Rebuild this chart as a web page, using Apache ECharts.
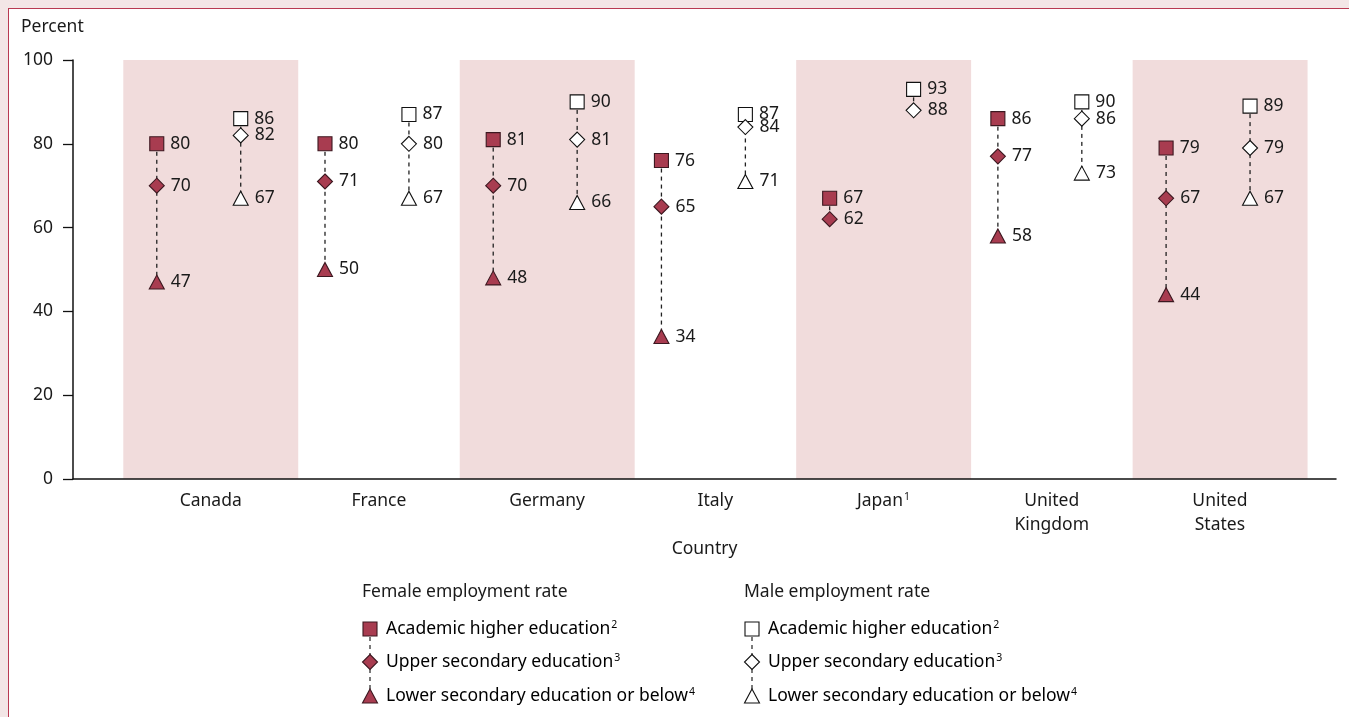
<!DOCTYPE html>
<html>
<head>
<meta charset="utf-8">
<title>Employment rates by education</title>
<script src="https://cdn.jsdelivr.net/npm/echarts@6/dist/echarts.min.js"></script>
<style>
  html, body { margin: 0; padding: 0; }
  body { width: 1349px; height: 717px; background: #f3e6e6; position: relative; overflow: hidden; }
  #panel { position: absolute; left: 8px; top: 8px; right: 0; bottom: 0; background: #fff;
           border-left: 1px solid #b83a52; border-top: 1px solid #b83a52; }
  #chart { position: absolute; left: 0; top: 0; width: 1349px; height: 717px; }
</style>
</head>
<body>
<div id="panel"></div>
<div id="chart"></div>
<script>
// data
var countries = ['Canada', 'France', 'Germany', 'Italy', 'Japan', 'United Kingdom', 'United States'];
var countryNotes = { 'Japan': '1' };
var shadedCountries = ['Canada', 'Germany', 'Japan', 'United States'];

var femaleAcademic = [80, 80, 81, 76, 67, 86, 79];
var femaleUpper    = [70, 71, 70, 65, 62, 77, 67];
var femaleLower    = [47, 50, 48, 34, null, 58, 44];

var maleAcademic = [86, 87, 90, 87, 93, 90, 89];
var maleUpper    = [82, 80, 81, 84, 88, 86, 79];
var maleLower    = [67, 67, 66, 71, null, 73, 67];

var yMin = 0, yMax = 100, yStep = 20;

var legendGroups = [
  { title: 'Female employment rate', fill: '#a83c50', stroke: '#3c1820' },
  { title: 'Male employment rate', fill: '#ffffff', stroke: '#111111' }
];
var legendRows = [
  { text: 'Academic higher education', note: '2', symbol: 'square' },
  { text: 'Upper secondary education', note: '3', symbol: 'diamond' },
  { text: 'Lower secondary education or below', note: '4', symbol: 'triangle' }
];

// layout
var FONT = '"Noto Sans", sans-serif';
var FS = 17.5;
var TXT = '#1a1a1a';
var FEMALE_DX = -0.321, MALE_DX = 0.178, BAND_HALF = 0.52;
var FEMALE_FILL = '#a83c50', FEMALE_LINE = '#3c1820';

function pts(values, dx) {
  var out = [];
  values.forEach(function (v, i) { if (v != null) out.push([i + dx, v]); });
  return out;
}

function ranges(lists, dx) {
  return countries.map(function (c, i) {
    var vals = lists.map(function (l) { return l[i]; }).filter(function (v) { return v != null; });
    return [i + dx, Math.max.apply(null, vals), Math.min.apply(null, vals)];
  });
}

function scatter(name, values, dx, symbol, size, fill, stroke) {
  return {
    name: name, type: 'scatter', xAxisIndex: 0, yAxisIndex: 0, z: 5,
    symbol: symbol, symbolSize: size,
    itemStyle: { color: fill, borderColor: stroke, borderWidth: 1.1, opacity: 1 },
    label: {
      show: true, position: 'right', distance: 6,
      fontFamily: FONT, fontSize: FS, color: TXT,
      formatter: function (p) { return p.value[1]; }
    },
    emphasis: { disabled: true },
    data: pts(values, dx)
  };
}

var supRich = {
  a: { fontFamily: FONT, fontSize: FS, color: TXT },
  s: { fontFamily: FONT, fontSize: 10.5, color: TXT, padding: [0, 0, 8, 1] }
};

// legend built with graphic elements
var graphics = [{
  type: 'text', left: 21, top: 18,
  style: { text: 'Percent', fontFamily: FONT, fontSize: FS, fill: TXT }
}];
var legendX = [370, 752], headY = 592, rowY = [629, 662, 696];
legendGroups.forEach(function (g, gi) {
  var cx = legendX[gi];
  graphics.push({ type: 'text', x: cx - 8, y: headY,
    style: { text: g.title, fontFamily: FONT, fontSize: FS, fill: TXT, verticalAlign: 'middle' } });
  graphics.push({ type: 'line', shape: { x1: cx, y1: rowY[0], x2: cx, y2: rowY[2] },
    style: { stroke: '#222', lineWidth: 1.2, lineDash: [4, 4] } });
  legendRows.forEach(function (r, ri) {
    var cy = rowY[ri], sh;
    var st = { fill: g.fill, stroke: g.stroke, lineWidth: 1.1 };
    if (r.symbol === 'square') sh = { type: 'rect', shape: { x: cx - 7, y: cy - 7, width: 14, height: 14 }, style: st };
    else if (r.symbol === 'diamond') sh = { type: 'polygon', shape: { points: [[cx, cy - 7.5], [cx + 7.5, cy], [cx, cy + 7.5], [cx - 7.5, cy]] }, style: st };
    else sh = { type: 'polygon', shape: { points: [[cx, cy - 7], [cx + 7.5, cy + 7], [cx - 7.5, cy + 7]] }, style: st };
    graphics.push(sh);
    graphics.push({ type: 'text', x: cx + 16, y: cy,
      style: { text: '{a|' + r.text + '}{s|' + r.note + '}', rich: supRich, verticalAlign: 'middle' } });
  });
});

var chart = echarts.init(document.getElementById('chart'), null, { renderer: 'canvas' });

var option = {
  backgroundColor: 'transparent',
  animation: false,
  textStyle: { fontFamily: FONT },
  grid: [
    { left: 73, right: 13, top: 60, height: 419 },
    { left: 126.6, width: 1177.4, top: 60, height: 419 }
  ],
  xAxis: [{
    type: 'value', gridIndex: 0, min: -0.819, max: 6.689,
    axisLine: { show: true, onZero: false, lineStyle: { color: '#111', width: 1.5 } },
    axisTick: { show: false }, axisLabel: { show: false }, splitLine: { show: false },
    name: 'Country', nameLocation: 'middle', nameGap: 61,
    nameTextStyle: { fontFamily: FONT, fontSize: FS, color: TXT }
  }, {
    type: 'category', gridIndex: 1, data: countries,
    axisLine: { show: false }, axisTick: { show: false },
    axisLabel: {
      margin: 10, lineHeight: 24, fontFamily: FONT, fontSize: FS, color: TXT, interval: 0,
      formatter: function (v) {
        var t = v.replace(' ', '\n');
        return countryNotes[v] ? '{a|' + t + '}{s|' + countryNotes[v] + '}' : '{a|' + t + '}';
      },
      rich: supRich
    }
  }],
  yAxis: [{
    type: 'value', gridIndex: 0, min: yMin, max: yMax, interval: yStep,
    axisLine: { show: true, onZero: false, lineStyle: { color: '#111', width: 1.5 } },
    axisTick: { show: true, length: 10, lineStyle: { color: '#111', width: 1.3 } },
    axisLabel: { margin: 20, fontFamily: FONT, fontSize: FS, color: TXT },
    splitLine: { show: false }
  }, {
    type: 'value', gridIndex: 1, min: yMin, max: yMax, show: false
  }],
  graphic: graphics,
  series: [{
    name: 'bands', type: 'custom', xAxisIndex: 0, yAxisIndex: 0, z: 0, silent: true,
    data: shadedCountries.map(function (c) { return [countries.indexOf(c)]; }),
    renderItem: function (params, api) {
      var i = api.value(0);
      var a = api.coord([i - BAND_HALF, yMax]), b = api.coord([i + BAND_HALF, yMin]);
      return { type: 'rect', shape: { x: a[0], y: a[1], width: b[0] - a[0], height: b[1] - a[1] },
        style: { fill: '#f1dcdc' } };
    }
  }, {
    name: 'links', type: 'custom', xAxisIndex: 0, yAxisIndex: 0, z: 2, silent: true,
    data: ranges([femaleAcademic, femaleUpper, femaleLower], FEMALE_DX)
      .concat(ranges([maleAcademic, maleUpper, maleLower], MALE_DX)),
    renderItem: function (params, api) {
      var a = api.coord([api.value(0), api.value(1)]), b = api.coord([api.value(0), api.value(2)]);
      return { type: 'line', shape: { x1: a[0], y1: a[1], x2: b[0], y2: b[1] },
        style: { stroke: '#222', lineWidth: 1.3, lineDash: [4, 4] } };
    }
  },
    scatter('Female academic higher education', femaleAcademic, FEMALE_DX, 'rect', 14, FEMALE_FILL, FEMALE_LINE),
    scatter('Female upper secondary education', femaleUpper, FEMALE_DX, 'diamond', 15, FEMALE_FILL, FEMALE_LINE),
    scatter('Female lower secondary education or below', femaleLower, FEMALE_DX, 'triangle', [15, 14], FEMALE_FILL, FEMALE_LINE),
    scatter('Male academic higher education', maleAcademic, MALE_DX, 'rect', 14, '#ffffff', '#111'),
    scatter('Male upper secondary education', maleUpper, MALE_DX, 'diamond', 15, '#ffffff', '#111'),
    scatter('Male lower secondary education or below', maleLower, MALE_DX, 'triangle', [15, 14], '#ffffff', '#111')
  ]
};

chart.setOption(option);
</script>
</body>
</html>
